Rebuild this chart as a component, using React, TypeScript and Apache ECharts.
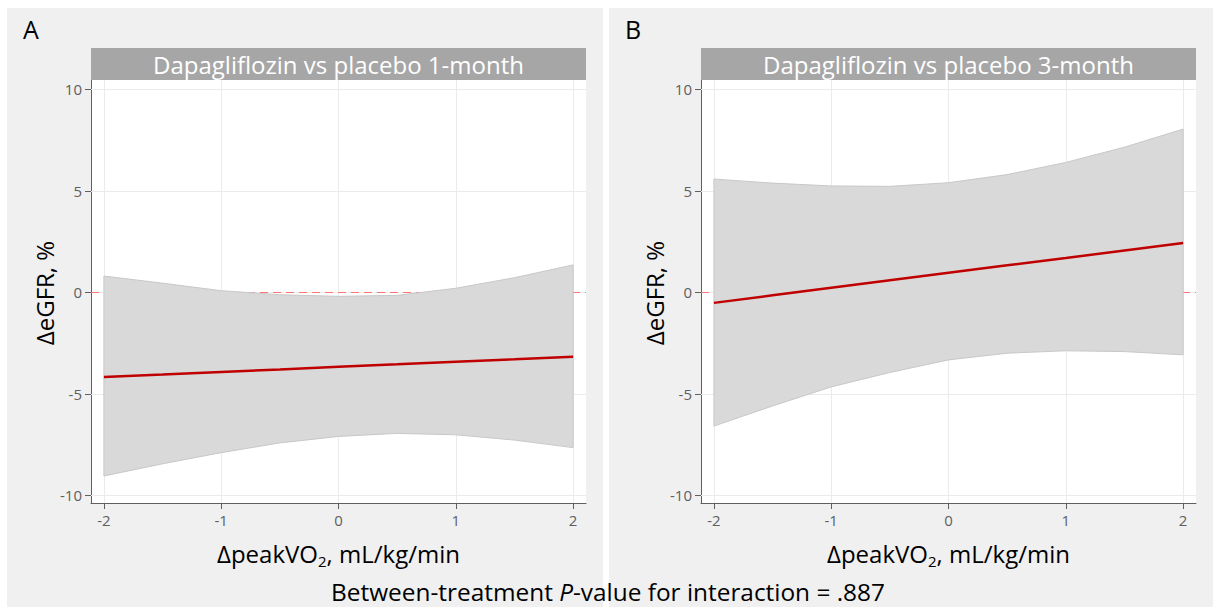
import React, { useEffect, useRef } from 'react';
import * as echarts from 'echarts';

// ---- data ----
const xTicks = [-2, -1, 0, 1, 2];
const yTicks = [-10, -5, 0, 5, 10];
const xs = [-2, -1.5, -1, -0.5, 0, 0.5, 1, 1.5, 2];

const fitA = [-4.17, -4.05, -3.92, -3.8, -3.67, -3.55, -3.42, -3.3, -3.17];
const upperA = [0.8, 0.45, 0.08, -0.12, -0.2, -0.15, 0.2, 0.72, 1.35];
const lowerA = [-9.05, -8.45, -7.9, -7.42, -7.1, -6.95, -7.02, -7.28, -7.65];

const fitB = [-0.52, -0.15, 0.22, 0.59, 0.96, 1.33, 1.69, 2.06, 2.43];
const upperB = [5.58, 5.38, 5.24, 5.22, 5.4, 5.8, 6.4, 7.15, 8.04];
const lowerB = [-6.59, -5.6, -4.66, -3.95, -3.33, -3.0, -2.88, -2.92, -3.08];

const refLine = 0;
const titles = ['Dapagliflozin vs placebo 1-month', 'Dapagliflozin vs placebo 3-month'];
const panelLetters = ['A', 'B'];
const yTitle = 'ΔeGFR, %';
const xTitleMain = 'ΔpeakVO';
const xTitleSub = '2';
const xTitleRest = ', mL/kg/min';
const footerA = 'Between-treatment ';
const footerP = 'P';
const footerB = '-value for interaction = .887';

const FONT = 'Open Sans';
const W = 1213;
const H = 607;

const panels = [
  { fit: fitA, upper: upperA, lower: lowerA, gridLeft: 91, bgX: 7, bgW: 596 },
  { fit: fitB, upper: upperB, lower: lowerB, gridLeft: 701, bgX: 609, bgW: 604 },
];
const GRID_TOP = 80;
const GRID_W = 495;
const GRID_H = 423;

function buildOption() {
  const grid: any[] = [];
  const xAxis: any[] = [];
  const yAxis: any[] = [];
  const series: any[] = [];
  const graphic: any[] = [];

  // white page margins and gap between panels
  graphic.push(
    { type: 'rect', z: 0, shape: { x: 0, y: 0, width: W, height: 8 }, style: { fill: '#ffffff' } },
    { type: 'rect', z: 0, shape: { x: 0, y: 0, width: 7, height: H }, style: { fill: '#ffffff' } },
    { type: 'rect', z: 0, shape: { x: 603, y: 0, width: 6, height: H }, style: { fill: '#ffffff' } }
  );

  panels.forEach((p, i) => {
    grid.push({
      left: p.gridLeft,
      top: GRID_TOP,
      width: GRID_W,
      height: GRID_H,
      show: true,
      backgroundColor: '#ffffff',
      borderWidth: 0,
    });
    xAxis.push({
      gridIndex: i,
      type: 'value',
      min: -2.11,
      max: 2.11,
      axisLine: { show: true, onZero: false, lineStyle: { color: '#5f5f5f', width: 1 } },
      axisTick: { show: true, length: 6, lineStyle: { color: '#5f5f5f' }, customValues: xTicks },
      axisLabel: { customValues: xTicks, color: '#5f5f5f', fontSize: 15, margin: 9, fontFamily: FONT },
      splitLine: { show: false },
    });
    yAxis.push({
      gridIndex: i,
      type: 'value',
      min: -10.38,
      max: 10.46,
      axisLine: { show: true, onZero: false, lineStyle: { color: '#5f5f5f', width: 1 } },
      axisTick: { show: true, length: 6, lineStyle: { color: '#5f5f5f' }, customValues: yTicks },
      axisLabel: { customValues: yTicks, color: '#5f5f5f', fontSize: 15, margin: 9, fontFamily: FONT },
      splitLine: { show: false },
    });

    // grid lines + dashed reference line (underneath the ribbon)
    series.push({
      type: 'line',
      xAxisIndex: i,
      yAxisIndex: i,
      z: 1,
      silent: true,
      symbol: 'none',
      lineStyle: { opacity: 0 },
      data: xs.map((x, k) => [x, p.fit[k]]),
      markLine: {
        z: 1,
        silent: true,
        symbol: 'none',
        label: { show: false },
        animation: false,
        data: [
          ...xTicks.map((v) => ({ xAxis: v, lineStyle: { color: '#ebebeb', width: 1, type: 'solid' } })),
          ...yTicks.map((v) => ({ yAxis: v, lineStyle: { color: '#ebebeb', width: 1, type: 'solid' } })),
          { yAxis: refLine, lineStyle: { color: '#ff7575', width: 1.2, type: [8, 5] } },
        ],
      },
    });

    // confidence ribbon
    series.push({
      type: 'custom',
      xAxisIndex: i,
      yAxisIndex: i,
      z: 10,
      silent: true,
      data: xs.map((x, k) => [x, p.lower[k], p.upper[k]]),
      encode: { x: 0, y: [1, 2] },
      renderItem: (params: any, api: any) => {
        if (params.dataIndex !== 0) return null;
        const pts: number[][] = [];
        xs.forEach((x, k) => pts.push(api.coord([x, p.upper[k]])));
        for (let k = xs.length - 1; k >= 0; k--) pts.push(api.coord([xs[k], p.lower[k]]));
        return {
          type: 'polygon',
          shape: { points: pts },
          style: { fill: '#d9d9d9', stroke: '#c8c8c8', lineWidth: 1 },
        };
      },
    });

    // fitted line
    series.push({
      type: 'line',
      xAxisIndex: i,
      yAxisIndex: i,
      z: 11,
      silent: true,
      symbol: 'none',
      lineStyle: { color: '#c00000', width: 2.5 },
      data: xs.map((x, k) => [x, p.fit[k]]),
    });

    const cx = p.gridLeft + GRID_W / 2;
    // strip title
    graphic.push({
      type: 'rect',
      z: 5,
      shape: { x: p.gridLeft, y: 48, width: GRID_W, height: 32 },
      style: { fill: '#a6a6a6' },
    });
    graphic.push({
      type: 'text',
      z: 6,
      x: cx,
      y: 64,
      style: {
        text: titles[i],
        fill: '#ffffff',
        fontSize: 24,
        fontFamily: FONT,
        align: 'center',
        verticalAlign: 'middle',
      },
    });
    // panel letter
    graphic.push({
      type: 'text',
      z: 6,
      x: p.bgX + 16,
      y: 29,
      style: {
        text: panelLetters[i],
        fill: '#000000',
        fontSize: 25,
        fontFamily: FONT,
        align: 'left',
        verticalAlign: 'middle',
      },
    });
    // y axis title
    graphic.push({
      type: 'text',
      z: 6,
      x: p.gridLeft - 47,
      y: 293,
      rotation: Math.PI / 2,
      style: {
        text: yTitle,
        fill: '#000000',
        fontSize: 24,
        fontFamily: FONT,
        align: 'center',
        verticalAlign: 'middle',
      },
    });
    // x axis title
    graphic.push({
      type: 'text',
      z: 6,
      x: cx,
      y: 553,
      style: {
        text: `{n|${xTitleMain}}{s|${xTitleSub}}{n|${xTitleRest}}`,
        align: 'center',
        verticalAlign: 'middle',
        rich: {
          n: { fontSize: 24, fontFamily: FONT, fill: '#000000', lineHeight: 30 },
          s: { fontSize: 15, fontFamily: FONT, fill: '#000000', lineHeight: 14, verticalAlign: 'bottom' },
        },
      },
    });
  });

  graphic.push({
    type: 'text',
    z: 6,
    x: 608,
    y: 591,
    style: {
      text: `{n|${footerA}}{i|${footerP}}{n|${footerB}}`,
      align: 'center',
      verticalAlign: 'middle',
      rich: {
        n: { fontSize: 24.4, fontFamily: FONT, fill: '#000000' },
        i: { fontSize: 24.4, fontFamily: FONT, fill: '#000000', fontStyle: 'italic' },
      },
    },
  });

  return {
    animation: false,
    backgroundColor: '#f0f0f0',
    textStyle: { fontFamily: FONT },
    grid,
    xAxis,
    yAxis,
    series,
    graphic,
  };
}

export default function App() {
  const ref = useRef<HTMLDivElement>(null);
  useEffect(() => {
    if (!ref.current) return;
    const chart = echarts.init(ref.current, undefined, { renderer: 'svg' });
    chart.setOption(buildOption() as any);
    return () => chart.dispose();
  }, []);
  return (
    <div
      ref={ref}
      style={{ position: 'absolute', left: 0, top: 0, width: W, height: H }}
    />
  );
}
